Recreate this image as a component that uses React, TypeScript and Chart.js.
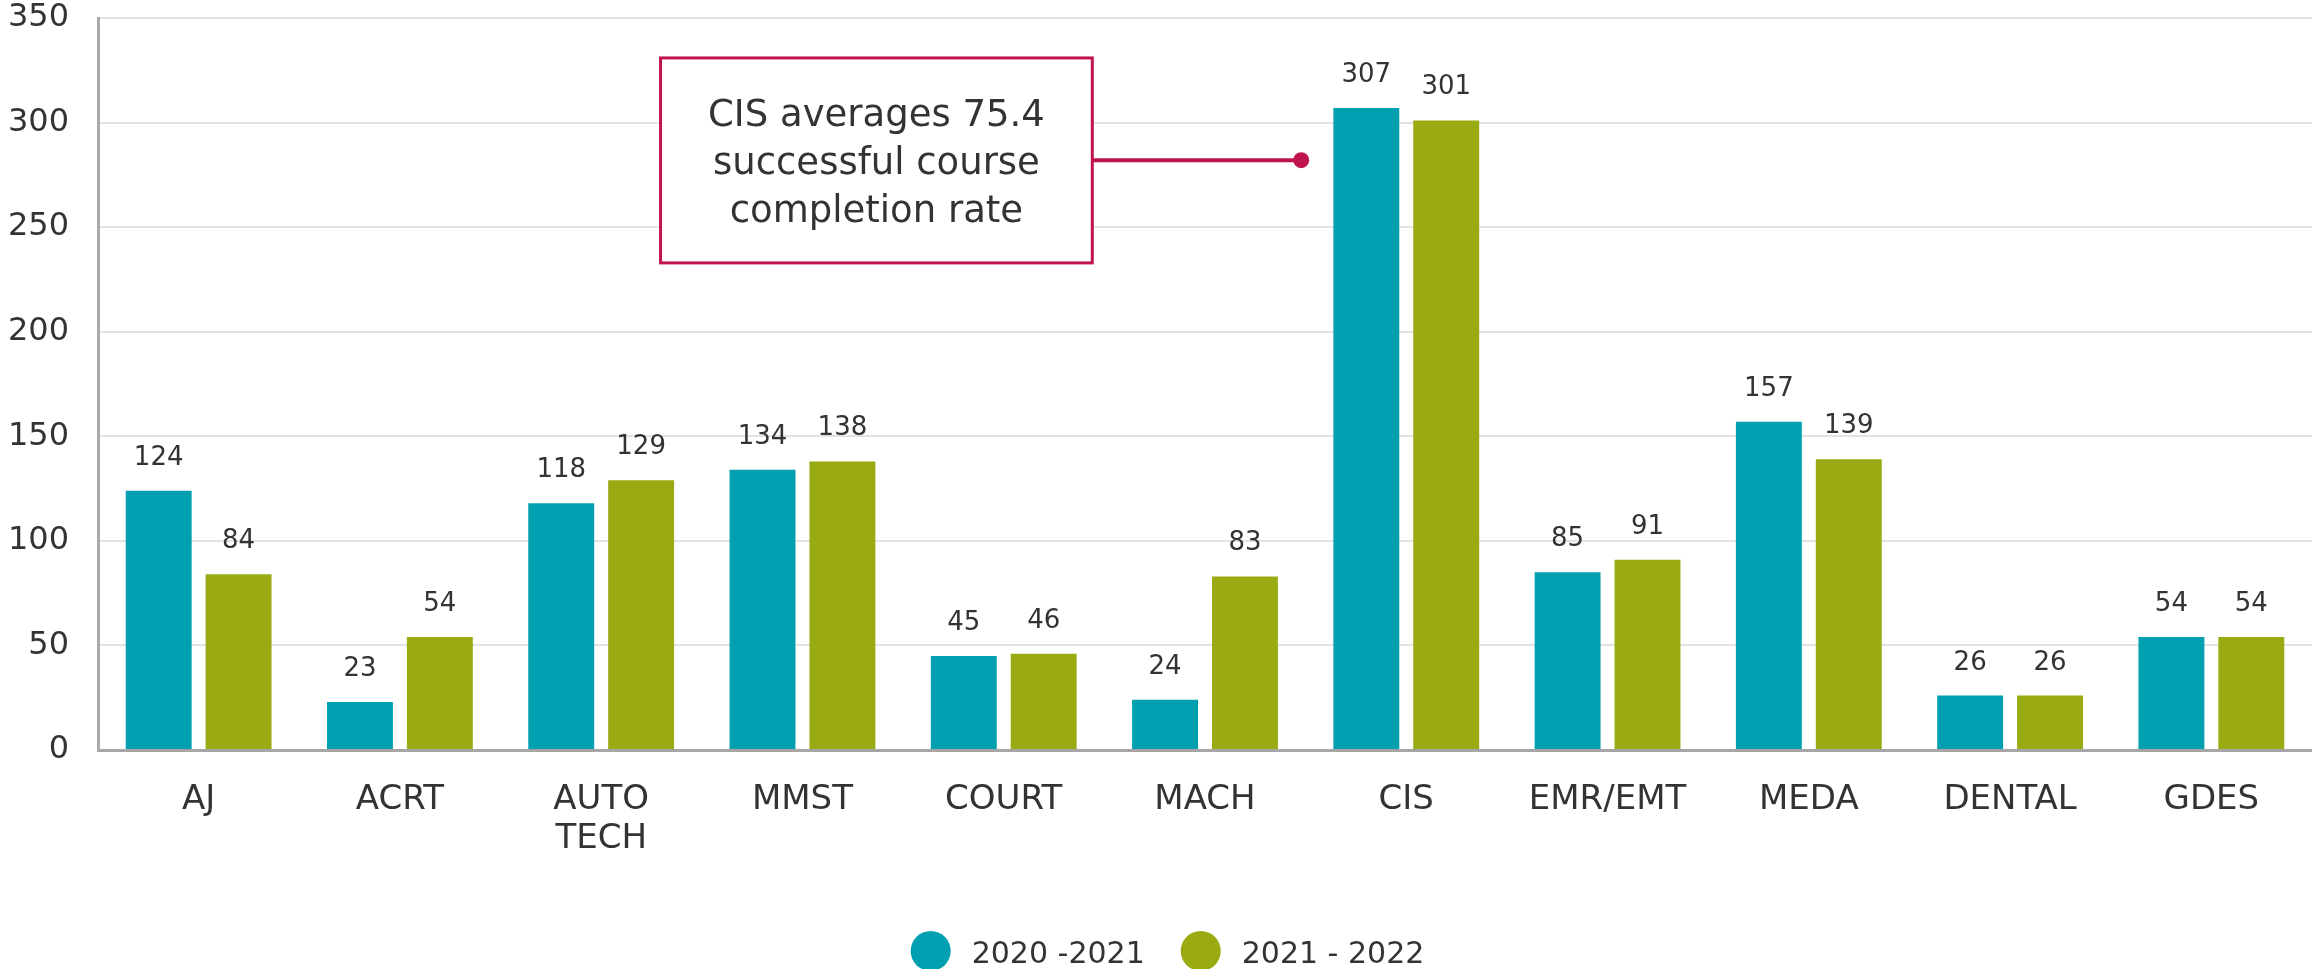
import React, { useEffect, useRef } from "react";
import { Chart, registerables } from "chart.js";

Chart.register(...registerables);

const categories: (string | string[])[] = [
  "AJ",
  "ACRT",
  ["AUTO", "TECH"],
  "MMST",
  "COURT",
  "MACH",
  "CIS",
  "EMR/EMT",
  "MEDA",
  "DENTAL",
  "GDES",
];
const series2020_2021 = [124, 23, 118, 134, 45, 24, 307, 85, 157, 26, 54];
const series2021_2022 = [84, 54, 129, 138, 46, 83, 301, 91, 139, 26, 54];
const seriesLabels = ["2020 -2021", "2021 - 2022"];
const yMin = 0;
const yMax = 350;
const yStep = 50;
const annotationLines = ["CIS averages 75.4", "successful course", "completion rate"];

const TEAL = "#00A0B0";
const GREEN = "#99AA12";
const CRIMSON = "#C0144F";
const TEXT = "#333333";
const FONT = "'DejaVu Sans', sans-serif";

// annotation placement in axis units (category index / value)
const ANNO = { pointX: 5.478, pointY: 282, boxX0: 2.295, boxX1: 4.44, boxTop: 330.9, boxBottom: 232.9 };

const dataLabelPlugin = {
  id: "dataLabels",
  afterDatasetsDraw(chart: any) {
    const ctx = chart.ctx;
    ctx.save();
    ctx.font = `26px ${FONT}`;
    ctx.fillStyle = TEXT;
    ctx.textAlign = "center";
    ctx.textBaseline = "alphabetic";
    chart.data.datasets.forEach((ds: any, di: number) => {
      const meta = chart.getDatasetMeta(di);
      meta.data.forEach((el: any, i: number) => {
        ctx.fillText(String(ds.data[i]), el.x, el.y - 26);
      });
    });
    ctx.restore();
  },
};

const annotationPlugin = {
  id: "calloutAnnotation",
  afterDraw(chart: any) {
    const ctx = chart.ctx;
    const xs = chart.scales.x;
    const ys = chart.scales.y;
    const x0 = xs.getPixelForValue(ANNO.boxX0);
    const x1 = xs.getPixelForValue(ANNO.boxX1);
    const y0 = ys.getPixelForValue(ANNO.boxTop);
    const y1 = ys.getPixelForValue(ANNO.boxBottom);
    const px = xs.getPixelForValue(ANNO.pointX);
    const py = ys.getPixelForValue(ANNO.pointY);
    ctx.save();
    ctx.fillStyle = "#ffffff";
    ctx.fillRect(x0, y0, x1 - x0, y1 - y0);
    ctx.strokeStyle = CRIMSON;
    ctx.lineWidth = 3;
    ctx.strokeRect(x0, y0, x1 - x0, y1 - y0);
    ctx.lineWidth = 4;
    ctx.beginPath();
    ctx.moveTo(x1, py);
    ctx.lineTo(px, py);
    ctx.stroke();
    ctx.fillStyle = CRIMSON;
    ctx.beginPath();
    ctx.arc(px, py, 8, 0, Math.PI * 2);
    ctx.fill();
    ctx.fillStyle = TEXT;
    ctx.font = `37px ${FONT}`;
    ctx.textAlign = "center";
    ctx.textBaseline = "alphabetic";
    const cx = (x0 + x1) / 2;
    const cy = (y0 + y1) / 2;
    annotationLines.forEach((line, i) => {
      ctx.fillText(line, cx, cy - 34 + i * 48);
    });
    ctx.restore();
  },
};

const legendPlugin = {
  id: "customLegend",
  afterDraw(chart: any) {
    const ctx = chart.ctx;
    ctx.save();
    ctx.font = `30px ${FONT}`;
    const r = 20;
    const gapText = 21;
    const gapItem = 36;
    const items = chart.data.datasets.map((ds: any) => ({
      label: ds.label,
      color: ds.backgroundColor,
      w: ctx.measureText(ds.label).width,
    }));
    let total = 0;
    items.forEach((it: any, i: number) => {
      total += 2 * r + gapText + it.w + (i > 0 ? gapItem : 0);
    });
    let x = chart.width / 2 - total / 2 + 11.5;
    const cy = chart.height - 18;
    items.forEach((it: any) => {
      ctx.fillStyle = it.color;
      ctx.beginPath();
      ctx.arc(x + r, cy, r, 0, Math.PI * 2);
      ctx.fill();
      ctx.fillStyle = TEXT;
      ctx.textAlign = "left";
      ctx.textBaseline = "alphabetic";
      ctx.fillText(it.label, x + 2 * r + gapText, cy + 12);
      x += 2 * r + gapText + it.w + gapItem;
    });
    ctx.restore();
  },
};

export default function App() {
  const canvasRef = useRef<HTMLCanvasElement | null>(null);

  useEffect(() => {
    if (!canvasRef.current) return;
    const chart = new Chart(canvasRef.current, {
      type: "bar",
      data: {
        labels: categories as any,
        datasets: [
          {
            label: seriesLabels[0],
            data: series2020_2021,
            backgroundColor: TEAL,
            categoryPercentage: 0.794,
            barPercentage: 0.825,
          },
          {
            label: seriesLabels[1],
            data: series2021_2022,
            backgroundColor: GREEN,
            categoryPercentage: 0.794,
            barPercentage: 0.825,
          },
        ],
      },
      options: {
        responsive: false,
        animation: false,
        layout: { padding: { top: 18, left: 0, right: 0, bottom: 0 } },
        plugins: {
          legend: { display: false },
          tooltip: { enabled: false },
          title: { display: false },
        },
        scales: {
          x: {
            grid: { display: false, drawTicks: false },
            border: { display: true, color: "#a6a6a6", width: 3 },
            ticks: {
              color: TEXT,
              font: { family: FONT, size: 34, lineHeight: 1.147 },
              padding: 31,
              maxRotation: 0,
              autoSkip: false,
            },
            afterFit(scale: any) {
              scale.height = 219;
            },
          },
          y: {
            min: yMin,
            max: yMax,
            grid: { color: "#e3e3e3", lineWidth: 2, drawTicks: false },
            border: { display: true, color: "#aaaaaa", width: 3 },
            ticks: {
              stepSize: yStep,
              color: TEXT,
              font: { family: FONT, size: 32, lineHeight: 1.1 },
              padding: 29,
            },
            afterFit(scale: any) {
              scale.width = 98;
              scale.paddingTop = 0;
              scale.paddingBottom = 0;
            },
          },
        },
      },
      plugins: [dataLabelPlugin, annotationPlugin, legendPlugin],
    });
    return () => chart.destroy();
  }, []);

  return (
    <div style={{ position: "absolute", left: 0, top: 0, width: 2312, height: 969, background: "#ffffff" }}>
      <canvas ref={canvasRef} width={2312} height={969} style={{ display: "block" }} />
    </div>
  );
}
